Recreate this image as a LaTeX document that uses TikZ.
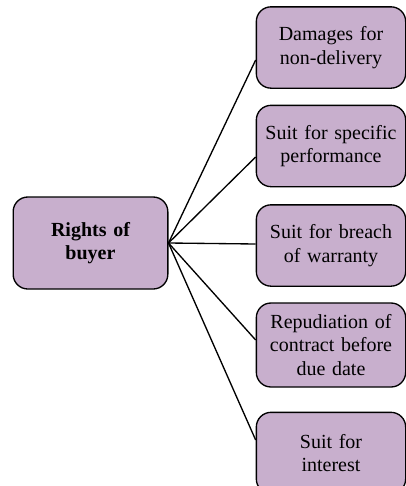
\documentclass[tikz,border=0pt]{standalone}
\usepackage{fontspec}
\setmainfont{Liberation Serif}
\usepackage{tikz}
\usetikzlibrary{calc}
\definecolor{lilac}{RGB}{200,175,205}
\tikzset{
 rbox/.style={draw=black, line width=1pt, fill=lilac, rounded corners=11pt,
   minimum width=112pt, minimum height=61pt, text width=108pt, align=center,
   inner sep=1pt, font=\fontsize{15}{17.5}\selectfont},
 link/.style={black, line width=1pt}
}

\begin{document}
\begin{tikzpicture}[x=0.75pt,y=-0.75pt]
\useasboundingbox (0,0) rectangle (406,486);
\clip (0,0) rectangle (406,486);
\node[rbox, minimum width=116pt, minimum height=69pt, text width=100pt, font=\fontsize{15}{17.5}\selectfont\bfseries] (rights) at (90.5,243) {Rights of\\buyer};
\node[rbox] (damages) at (331,47.5) {Damages for\\non-delivery};
\node[rbox] (specific) at (331,146) {Suit for specific\\performance};
\node[rbox] (warranty) at (331,245.5) {Suit for breach\\of warranty};
\node[rbox, minimum height=63pt] (repud) at (331,345) {Repudiation of\\contract before\\due date};
\node[rbox] (interest) at (331,453) {Suit for\\interest};
\foreach \b/\y in {damages/60, specific/157, warranty/244, repud/340, interest/440} {
 \draw[link] (rights.east) -- (\b.west |- 0,\y);
}
\end{tikzpicture}
\end{document}
